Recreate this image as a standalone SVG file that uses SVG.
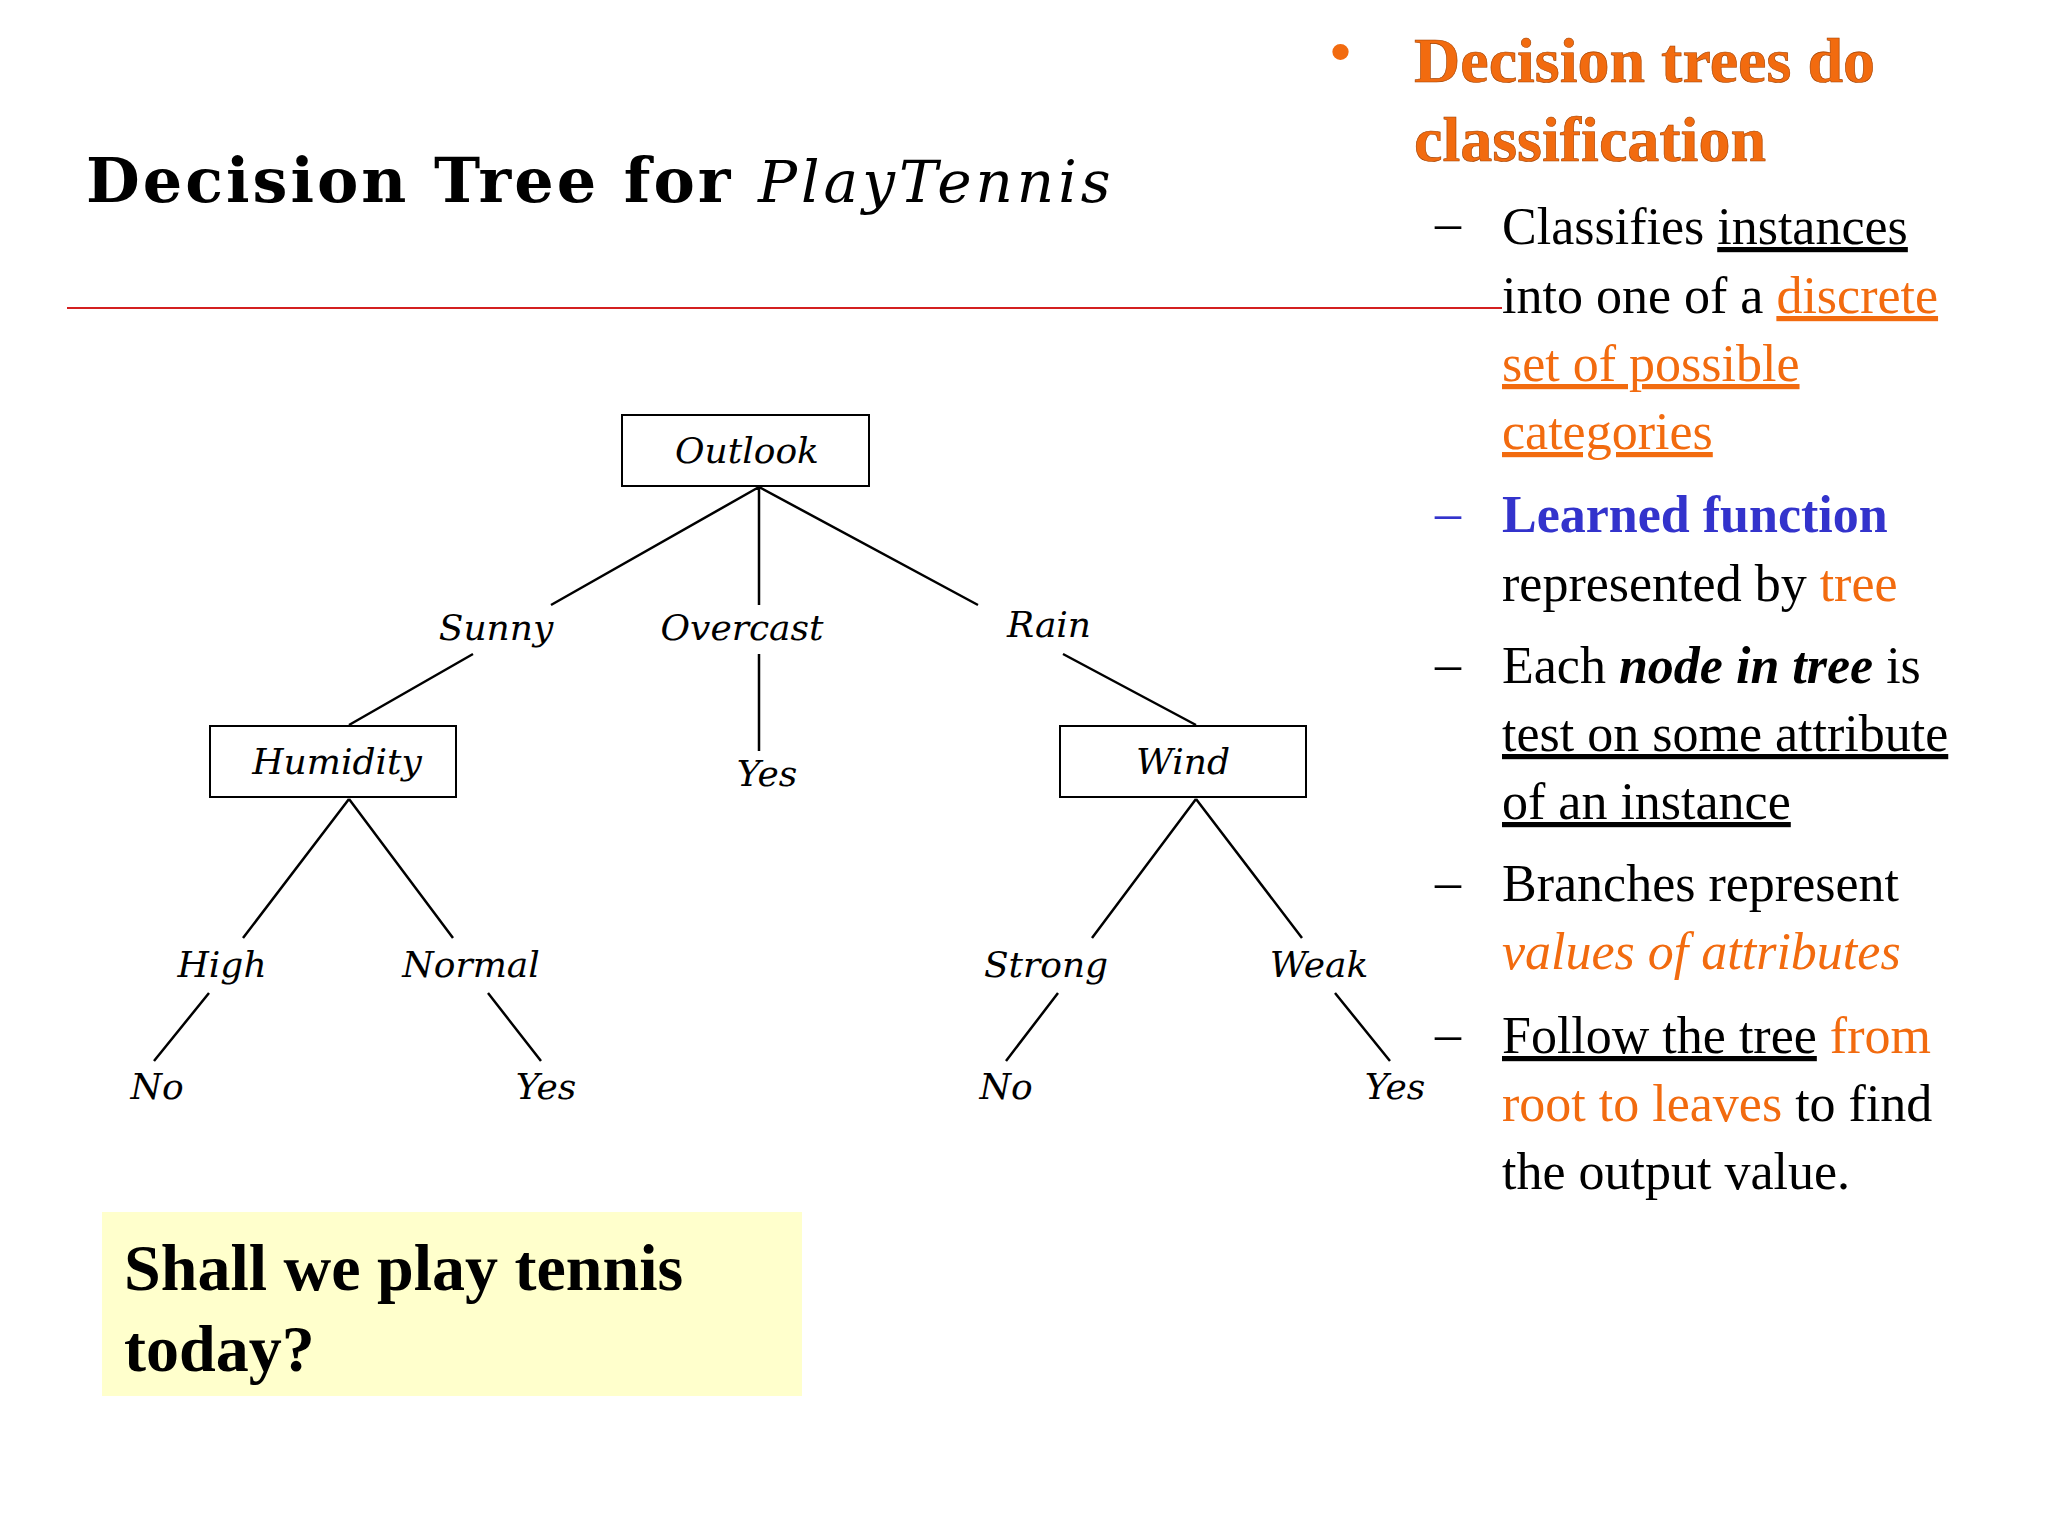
<svg xmlns="http://www.w3.org/2000/svg" width="2048" height="1536" viewBox="0 0 2048 1536">
<style>
.t{font-family:"DejaVu Serif","Liberation Serif",serif;font-style:italic;font-size:36px;text-anchor:middle;fill:#000}
.r{font-family:"Liberation Serif",serif;font-size:52px;fill:#000}
.o{fill:#f26b0f}
.u{text-decoration:underline}
.box{fill:#fff;stroke:#000;stroke-width:2}
</style>
<rect width="2048" height="1536" fill="#fff"/>
<text x="86" y="202" font-family="DejaVu Serif,serif" font-weight="bold" font-size="62" letter-spacing="3">Decision Tree for <tspan font-style="italic" font-weight="normal" font-size="58" letter-spacing="4">PlayTennis</tspan></text>
<line x1="67" y1="308" x2="1502" y2="308" stroke="#d42020" stroke-width="2"/>
<g id="connectors" stroke="#000" stroke-width="2.5" fill="none">
<path d="M759 487L551 605M759 487L759 605M759 487L978 605M473 654L349 725M759 654L759 751M1063 654L1196 725M349 799L243 938M349 799L453 938M209 993L154 1061M488 993L541 1061M1196 799L1092 938M1196 799L1302 938M1058 993L1006 1061M1335 993L1390 1061"/>
</g>
<g id="outlook"><rect class="box" x="622" y="415" width="247" height="71"/><text class="t" x="747" y="463">Outlook</text></g>
<g id="humidity"><rect class="box" x="210" y="726" width="246" height="71"/><text class="t" x="337" y="774">Humidity</text></g>
<g id="wind"><rect class="box" x="1060" y="726" width="246" height="71"/><text class="t" x="1183" y="774">Wind</text></g>
<g id="labels">
<text class="t" x="496" y="640">Sunny</text><text class="t" x="742" y="640">Overcast</text><text class="t" x="1049" y="637">Rain</text>
<text class="t" x="767" y="786">Yes</text>
<text class="t" x="222" y="977">High</text><text class="t" x="471" y="977">Normal</text>
<text class="t" x="157" y="1099">No</text><text class="t" x="546" y="1099">Yes</text>
<text class="t" x="1046" y="977">Strong</text><text class="t" x="1319" y="977">Weak</text>
<text class="t" x="1006" y="1099">No</text><text class="t" x="1395" y="1099">Yes</text>
</g>
<g id="question"><rect x="102" y="1212" width="700" height="184" fill="#ffffcc"/>
<text x="124" y="1290" font-family="Liberation Serif,serif" font-weight="bold" font-size="66">Shall we play tennis</text>
<text x="124" y="1371" font-family="Liberation Serif,serif" font-weight="bold" font-size="66">today?</text></g>
<g id="bullets">
<text x="1330" y="72" font-family="Liberation Sans,sans-serif" font-size="60" class="o">•</text>
<text x="1414" y="82" font-family="Liberation Serif,serif" font-weight="bold" font-size="64" class="o" stroke="#a04000" stroke-width="0.6">Decision trees do</text>
<text x="1414" y="161" font-family="Liberation Serif,serif" font-weight="bold" font-size="64" class="o" stroke="#a04000" stroke-width="0.6">classification</text>
<text class="r" x="1435" y="240">–</text>
<text class="r" x="1502" y="244">Classifies <tspan class="u">instances</tspan></text>
<text class="r" x="1502" y="313">into one of a <tspan class="o u">discrete</tspan></text>
<text class="r o u" x="1502" y="381">set of possible</text>
<text class="r o u" x="1502" y="449">categories</text>
<text class="r" x="1435" y="530" style="fill:#3333cc">–</text>
<text class="r" x="1502" y="532" font-weight="bold" style="fill:#3333cc">Learned function</text>
<text class="r" x="1502" y="601">represented by <tspan class="o">tree</tspan></text>
<text class="r" x="1435" y="681">–</text>
<text class="r" x="1502" y="683">Each <tspan font-weight="bold" font-style="italic">node in tree</tspan> is</text>
<text class="r u" x="1502" y="751">test on some attribute</text>
<text class="r u" x="1502" y="819">of an instance</text>
<text class="r" x="1435" y="899">–</text>
<text class="r" x="1502" y="901">Branches represent</text>
<text class="r o" x="1502" y="969" font-style="italic">values of attributes</text>
<text class="r" x="1435" y="1051">–</text>
<text class="r" x="1502" y="1053"><tspan class="u">Follow the tree</tspan> <tspan class="o">from</tspan></text>
<text class="r" x="1502" y="1121"><tspan class="o">root to leaves</tspan> to find</text>
<text class="r" x="1502" y="1189">the output value.</text>
</g>
</svg>
